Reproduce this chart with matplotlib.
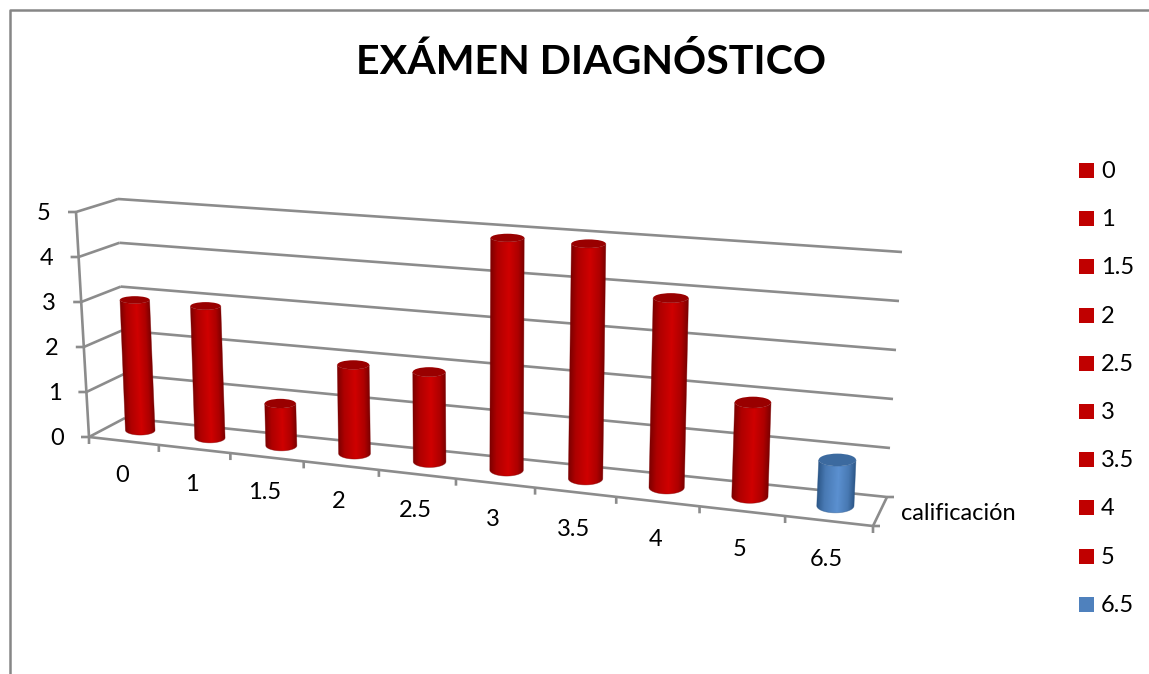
#!/usr/bin/env python3
"""Exam results drawn as a 3D style cylinder chart on a flat matplotlib axes."""

import numpy as np
import matplotlib
matplotlib.use('Agg')
import matplotlib.pyplot as plt
from matplotlib.colors import LinearSegmentedColormap
from matplotlib.patches import Ellipse, Polygon, Rectangle

TITLE = 'EXÁMEN DIAGNÓSTICO'
AXIS_NAME = 'calificación'
categories = ['0', '1', '1.5', '2', '2.5', '3', '3.5', '4', '5', '6.5']
counts = [3, 3, 1, 2, 2, 5, 5, 4, 2, 1]
y_ticks = [0, 1, 2, 3, 4, 5]
Y_MAX = 5

W, H = 1149, 674
FONT = 'Lato'
GRID = '#8c8c8c'
LABEL_SIZE = 17

# Pixel corners of the chart box: (x, y) at value 0 and at the top value
FRONT_LEFT = ((89, 437), (76, 212))
FRONT_RIGHT = ((873, 526), (880, 274))
BACK_LEFT = ((125, 418), (118, 199))
BACK_RIGHT = ((887, 497), (902, 252))
PERSPECTIVE = 0.88

# (edge, centre, cap) colours of a cylinder
RED = ('#7c0000', '#cf0000', '#990000')
BLUE = ('#2c5788', '#5b90d0', '#3c6a9f')
RED_KEY = '#c00000'
BLUE_KEY = '#4f81bd'


def warp(s):
    """Foreshortening along the category axis."""
    return PERSPECTIVE * s / (1 - s + PERSPECTIVE * s)


def project(s, v, d):
    """Category position s (0-1), value v and depth d (0 front, 1 back) to pixels."""
    f, t = warp(s), v / Y_MAX
    pts = []
    for i in (0, 1):
        left = (1 - d) * (FRONT_LEFT[0][i] * (1 - t) + FRONT_LEFT[1][i] * t) \
            + d * (BACK_LEFT[0][i] * (1 - t) + BACK_LEFT[1][i] * t)
        right = (1 - d) * (FRONT_RIGHT[0][i] * (1 - t) + FRONT_RIGHT[1][i] * t) \
            + d * (BACK_RIGHT[0][i] * (1 - t) + BACK_RIGHT[1][i] * t)
        pts.append(left * (1 - f) + right * f)
    return pts[0], pts[1]


def line(ax, a, b):
    ax.plot([a[0], b[0]], [a[1], b[1]], color=GRID, lw=1.9, zorder=1,
            solid_capstyle='butt', snap=False)


def draw_cylinder(ax, s, value, step, shades):
    x0, y0 = project(s, 0, 0.5)
    x1, y1 = project(s, value, 0.5)
    # small inset so the ends sit just inside the box planes
    x0, x1 = x0 - 1, x1 - 1
    y0, y1 = y0 - 1, y1 + 2.5
    # radius follows the local category spacing
    xa, _ = project(s - step / 2, 0, 0.5)
    xb, _ = project(s + step / 2, 0, 0.5)
    r = 0.215 * (xb - xa)
    # ellipse openness follows the depth of the box at that height
    b0 = 0.25 * (project(s, 0, 0)[1] - project(s, 0, 1)[1])
    b1 = 0.23 * (project(s, value, 0)[1] - project(s, value, 1)[1])

    # horizontal shading image, sheared along the lean of the cylinder
    left = int(min(x0, x1) - r - 2)
    right = int(max(x0, x1) + r + 3)
    top = int(y1 - b1 - 2)
    bottom = int(y0 + b0 + 3)
    xs, ys = np.meshgrid(np.arange(left, right) + 0.5, np.arange(top, bottom) + 0.5)
    centre = x1 + (x0 - x1) * (ys - y1) / (y0 - y1)
    u = np.clip((xs - centre) / r, -1, 1)
    shade = np.interp(u, [-1, -0.6, 0.1, 0.65, 1], [0, 0.6, 1, 0.6, 0])
    cmap = LinearSegmentedColormap.from_list('body', shades[:2])
    img = ax.imshow(shade, cmap=cmap, vmin=0, vmax=1, extent=(left, right, bottom, top),
                    interpolation='bilinear', aspect='auto', zorder=3)

    # clip to the silhouette: rounded bottom, cap ellipse on the top
    t = np.linspace(np.pi, 0, 41)
    lower = np.column_stack([x0 + r * np.cos(t), y0 + b0 * np.sin(t)])
    upper = np.column_stack([x1 + r * np.cos(t), y1 + b1 * np.sin(t)])
    outline = np.vstack([lower, upper[::-1]])
    silhouette = Polygon(outline, closed=True, facecolor='none', edgecolor=shades[0],
                         lw=0.5, alpha=0.5, zorder=3, snap=False)
    ax.add_patch(silhouette)
    img.set_clip_path(silhouette)
    ax.add_patch(Ellipse((x1, y1), 2 * r, 2 * b1, facecolor=shades[2],
                         edgecolor='none', zorder=4))


def main():
    fig = plt.figure(figsize=(W / 100, H / 100), dpi=100)
    ax = fig.add_axes([0, 0, 1, 1])

    # Outer chart frame, only the top and left edges are in view
    ax.plot([9.5, 9.5, W], [H, 10, 10], color='#868686', lw=1.8, zorder=1)

    ax.text(591, 62, TITLE, ha='center', va='center', fontsize=29.6,
            fontweight='bold', family=FONT, color='black')

    # Back wall gridlines, side wall and value ticks
    for v in y_ticks:
        back_l, back_r = project(0, v, 1), project(1, v, 1)
        front_l = project(0, v, 0)
        line(ax, back_l, back_r)
        line(ax, front_l, back_l)
        line(ax, (front_l[0] - 8, front_l[1]), front_l)
        ax.text(front_l[0] - 32, front_l[1] + 1.5, str(v), ha='center', va='center',
                fontsize=LABEL_SIZE, family=FONT)
    line(ax, project(0, 0, 0), project(0, Y_MAX, 0))

    # Floor edges and category ticks
    n = len(categories)
    step = 1 / n
    line(ax, project(0, 0, 0), project(1, 0, 0))
    line(ax, project(1, 0, 0), project(1, 0, 1))
    line(ax, project(1, 0, 1), np.add(project(1, 0, 1), (7, 0)))
    line(ax, project(1, 0, 0), np.add(project(1, 0, 0), (7, 0)))
    for i in range(n + 1):
        x, y = project(i * step, 0, 0)
        line(ax, (x, y), (x, y + 7))

    for i, (cat, value) in enumerate(zip(categories, counts)):
        s = (i + 0.5) * step
        x, y = project(s, 0, 0)
        ax.text(x - 2, y + 34.5 + 4 * s, cat, ha='center', va='center',
                fontsize=LABEL_SIZE, family=FONT)
        draw_cylinder(ax, s, value, step, BLUE if cat == '6.5' else RED)

    ax.text(901, 514, AXIS_NAME, ha='left', va='center', fontsize=LABEL_SIZE,
            family=FONT)

    # Legend column
    for i, cat in enumerate(categories):
        y = 170.5 + i * 48.2
        ax.add_patch(Rectangle((1079, y - 7.5), 15, 15, linewidth=0,
                               facecolor=BLUE_KEY if cat == '6.5' else RED_KEY))
        ax.text(1101, y + 1, cat, ha='left', va='center', fontsize=LABEL_SIZE,
                family=FONT)

    # imshow resets the limits, so they are set once everything is on
    ax.set_xlim(0, W)
    ax.set_ylim(H, 0)
    ax.axis('off')

    fig.savefig('out.png', dpi=100)


if __name__ == '__main__':
    main()
